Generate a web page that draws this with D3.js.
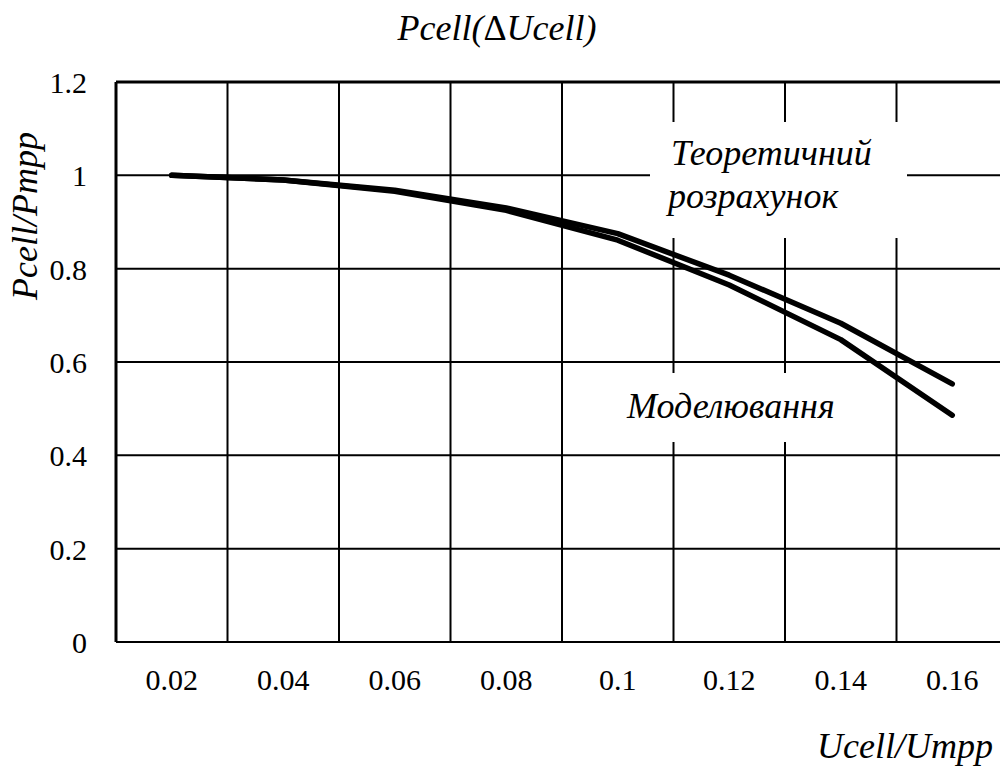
<!DOCTYPE html>
<html>
<head>
<meta charset="utf-8">
<script src="https://cdn.jsdelivr.net/npm/d3@7"></script>
<style>
  body { margin: 0; background: #fff; }
  svg { display: block; }
</style>
</head>
<body>
<svg id="chart" width="1000" height="769"></svg>
<script>
// DATA
var categories = ["0.02", "0.04", "0.06", "0.08", "0.1", "0.12", "0.14", "0.16"];
var theory = [1.0, 0.99, 0.968, 0.93, 0.875, 0.786, 0.683, 0.553];
var model  = [1.0, 0.99, 0.966, 0.925, 0.861, 0.765, 0.648, 0.486];
var yTicks = [0, 0.2, 0.4, 0.6, 0.8, 1, 1.2];

var svg = d3.select("#chart");
var plotL = 116, plotR = 1008, plotT = 82, plotB = 642;

var x = d3.scaleBand().domain(categories).range([plotL, plotR]).padding(0);
var y = d3.scaleLinear().domain([0, 1.2]).range([plotB, plotT]);

var serif = '"Liberation Serif", "Times New Roman", serif';

/*
  GRID
*/
svg.append("g").selectAll("line")
  .data(yTicks)
  .enter().append("line")
    .attr("x1", plotL).attr("x2", plotR)
    .attr("y1", function (d) { return y(d); })
    .attr("y2", function (d) { return y(d); })
    .style("stroke", "#000")
    .style("stroke-width", function (d) { return d === 1.2 ? 3 : 2; });

svg.append("g").selectAll("line")
  .data(categories)
  .enter().append("line")
    .attr("x1", function (d) { return x(d); })
    .attr("x2", function (d) { return x(d); })
    .attr("y1", plotT).attr("y2", plotB)
    .style("stroke", "#000")
    .style("stroke-width", function (d, i) { return i === 0 ? 3 : 2; });

// white boxes behind the annotations
svg.append("rect").attr("x", 650).attr("y", 122).attr("width", 257).attr("height", 116).style("fill", "#fff");
svg.append("rect").attr("x", 615).attr("y", 373).attr("width", 240).attr("height", 69).style("fill", "#fff");

/*
  AXES
*/
var xAxis = svg.append("g")
  .attr("transform", "translate(0," + plotB + ")")
  .call(d3.axisBottom(x).tickSize(0).tickPadding(0));
xAxis.select(".domain").remove();
xAxis.selectAll("text")
  .attr("y", 48).attr("dy", 0)
  .style("font-family", serif).style("font-size", "30px").style("fill", "#000");

var yAxis = svg.append("g")
  .attr("transform", "translate(87,0)")
  .call(d3.axisLeft(y).tickValues(yTicks).tickSize(0).tickPadding(0).tickFormat(d3.format("")));
yAxis.select(".domain").remove();
yAxis.selectAll("text")
  .attr("dy", "0.35em")
  .style("font-family", serif).style("font-size", "30px").style("fill", "#000");

/*
  SERIES
*/
var line = d3.line()
  .x(function (d, i) { return x(categories[i]) + x.bandwidth() / 2; })
  .y(function (d) { return y(d); });

[model, theory].forEach(function (s) {
  svg.append("path")
    .datum(s)
    .attr("d", line)
    .style("fill", "none")
    .style("stroke", "#000")
    .style("stroke-width", 5.5)
    .style("stroke-linejoin", "round")
    .style("stroke-linecap", "round");
});

/*
  TEXTS
*/
function label(t, px, py, anchor, rot) {
  var el = svg.append("text")
    .text(t)
    .attr("x", px).attr("y", py)
    .style("text-anchor", anchor)
    .style("font-family", serif)
    .style("font-style", "italic")
    .style("font-size", "36px")
    .style("fill", "#000");
  if (rot) el.attr("transform", "rotate(-90," + px + "," + py + ")");
  return el;
}

// title, with an upright delta like the original
var title = label("", 497, 40, "middle");
title.append("tspan").text("Pcell(");
title.append("tspan").text("\u0394").style("font-style", "normal");
title.append("tspan").text("Ucell)");

label("Ucell/Umpp", 993, 758, "end");
label("Pcell/Pmpp", 37, 216, "middle", true);
label("Теоретичний", 671, 165, "start");
label("розрахунок", 668, 208, "start");
label("Моделювання", 627, 418, "start");
</script>
</body>
</html>
